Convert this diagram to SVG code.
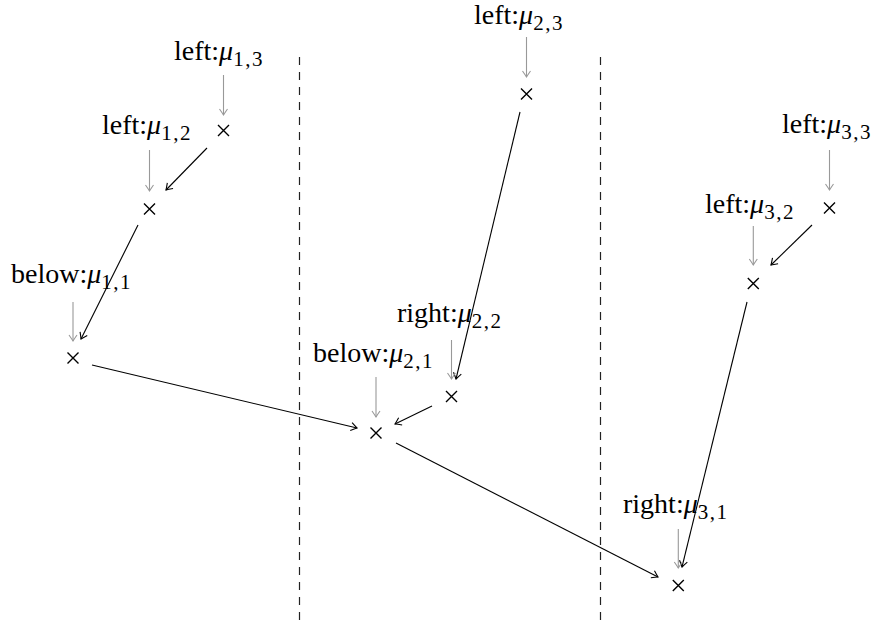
<svg xmlns="http://www.w3.org/2000/svg" width="878" height="630" viewBox="0 0 878 630">
  <defs>
    <style>
      text { font-family: 'Liberation Serif', 'Times New Roman', serif; font-size: 28px; fill: #000; }
      .mu { font-style: italic; }
      .sub { font-size: 21px; letter-spacing: 1.5px; }
      .cross { stroke: #000; stroke-width: 1.4; fill: none; }
      .edge { stroke: #000; stroke-width: 1.1; fill: none; marker-end: url(#tip); }
      .pin { stroke: #999; stroke-width: 1.1; fill: none; marker-end: url(#tipGray); }
      .sep { stroke: #222; stroke-width: 1.2; stroke-dasharray: 8 7; fill: none; }
    </style>
    <marker id="tip" viewBox="-8 -5 10 10" refX="0" refY="0" markerWidth="10" markerHeight="10" markerUnits="userSpaceOnUse" orient="auto">
      <path d="M -6 -4 Q -2 -1.2 0 0 Q -2 1.2 -6 4" fill="none" stroke="#000" stroke-width="1.1"/>
    </marker>
    <marker id="tipGray" viewBox="-8 -5 10 10" refX="0" refY="0" markerWidth="10" markerHeight="10" markerUnits="userSpaceOnUse" orient="auto">
      <path d="M -6 -4 Q -2 -1.2 0 0 Q -2 1.2 -6 4" fill="none" stroke="#999" stroke-width="1.1"/>
    </marker>
    <path id="x" d="M -5.5 -5.5 L 5.5 5.5 M -5.5 5.5 L 5.5 -5.5"/>
  </defs>

  <!-- column separators -->
  <g id="separators">
    <line class="sep" x1="299.5" y1="57" x2="299.5" y2="620"/>
    <line class="sep" x1="600.5" y1="57" x2="600.5" y2="620"/>
  </g>

  <!-- chain connectors -->
  <g id="connectors">
    <line class="edge" x1="207" y1="148" x2="166" y2="190"/>
    <line class="edge" x1="138" y1="225" x2="81" y2="339"/>
    <line class="edge" x1="92" y1="365" x2="357" y2="428"/>
    <line class="edge" x1="520" y1="112" x2="456" y2="379"/>
    <line class="edge" x1="432" y1="406" x2="395" y2="424"/>
    <line class="edge" x1="396" y1="443" x2="658" y2="577"/>
    <line class="edge" x1="812" y1="225" x2="771" y2="265"/>
    <line class="edge" x1="747" y1="302" x2="682" y2="567"/>
  </g>

  <!-- column 1 -->
  <g id="m13">
    <text x="174" y="60">left:<tspan class="mu">μ</tspan><tspan class="sub" dy="6">1,3</tspan></text>
    <line class="pin" x1="223.5" y1="75" x2="223.5" y2="115"/>
    <use href="#x" class="cross" x="223.5" y="130.5"/>
  </g>
  <g id="m12">
    <text x="102" y="134">left:<tspan class="mu">μ</tspan><tspan class="sub" dy="6">1,2</tspan></text>
    <line class="pin" x1="149.5" y1="150" x2="149.5" y2="191"/>
    <use href="#x" class="cross" x="149.5" y="209"/>
  </g>
  <g id="m11">
    <text x="11" y="283">below:<tspan class="mu">μ</tspan><tspan class="sub" dy="6">1,1</tspan></text>
    <line class="pin" x1="73" y1="302" x2="73" y2="341"/>
    <use href="#x" class="cross" x="73" y="358"/>
  </g>

  <!-- column 2 -->
  <g id="m23">
    <text x="474" y="24">left:<tspan class="mu">μ</tspan><tspan class="sub" dy="6">2,3</tspan></text>
    <line class="pin" x1="526.5" y1="37" x2="526.5" y2="77"/>
    <use href="#x" class="cross" x="526.5" y="94"/>
  </g>
  <g id="m22">
    <text x="397" y="322">right:<tspan class="mu">μ</tspan><tspan class="sub" dy="6">2,2</tspan></text>
    <line class="pin" x1="451.5" y1="340" x2="451.5" y2="379"/>
    <use href="#x" class="cross" x="451.5" y="396.5"/>
  </g>
  <g id="m21">
    <text x="313" y="362">below:<tspan class="mu">μ</tspan><tspan class="sub" dy="6">2,1</tspan></text>
    <line class="pin" x1="376" y1="377" x2="376" y2="417"/>
    <use href="#x" class="cross" x="376" y="433"/>
  </g>

  <!-- column 3 -->
  <g id="m33">
    <text x="782" y="133">left:<tspan class="mu">μ</tspan><tspan class="sub" dy="6">3,3</tspan></text>
    <line class="pin" x1="829.5" y1="150" x2="829.5" y2="190"/>
    <use href="#x" class="cross" x="829.5" y="208"/>
  </g>
  <g id="m32">
    <text x="705" y="213">left:<tspan class="mu">μ</tspan><tspan class="sub" dy="6">3,2</tspan></text>
    <line class="pin" x1="753.3" y1="226" x2="753.3" y2="265"/>
    <use href="#x" class="cross" x="753.3" y="283.5"/>
  </g>
  <g id="m31">
    <text x="623" y="513">right:<tspan class="mu">μ</tspan><tspan class="sub" dy="6">3,1</tspan></text>
    <line class="pin" x1="678.3" y1="529" x2="678.3" y2="568"/>
    <use href="#x" class="cross" x="678.3" y="585.5"/>
  </g>
</svg>
